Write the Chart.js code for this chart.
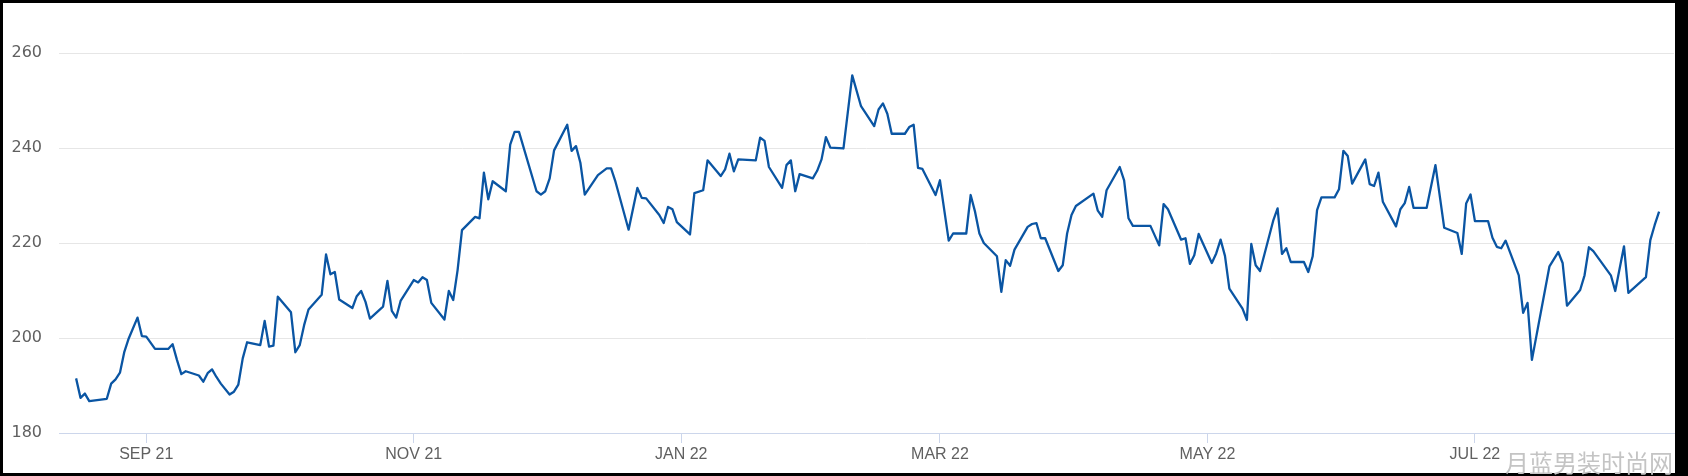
<!DOCTYPE html>
<html><head><meta charset="utf-8">
<script src="https://cdn.jsdelivr.net/npm/chart.js@4/dist/chart.umd.min.js"></script>
<style>
html,body{margin:0;padding:0;background:#000;width:1688px;height:476px;overflow:hidden}
#wrap{position:absolute;left:3px;top:3px;width:1672px;height:470px;background:#fff}
#wm{position:absolute;right:15px;top:450px;font-family:"Noto Sans CJK SC";font-size:24px;color:#c4c4c4;line-height:1;white-space:nowrap}
</style></head><body>
<div id="wrap"><canvas id="c" width="1672" height="470"></canvas></div>
<div id="wm">月蓝男装时尚网</div>
<script>
const dates = [
'2021-08-16','2021-08-17','2021-08-18','2021-08-19','2021-08-23','2021-08-24','2021-08-25','2021-08-26','2021-08-27','2021-08-28',
'2021-08-30','2021-08-31','2021-09-01','2021-09-03','2021-09-06','2021-09-07','2021-09-08','2021-09-09','2021-09-10','2021-09-13',
'2021-09-14','2021-09-15','2021-09-16','2021-09-17','2021-09-18','2021-09-20','2021-09-21','2021-09-22','2021-09-23','2021-09-24',
'2021-09-27','2021-09-28','2021-09-29','2021-09-30','2021-10-01','2021-10-04','2021-10-05','2021-10-06','2021-10-07','2021-10-08',
'2021-10-11','2021-10-12','2021-10-13','2021-10-14','2021-10-15','2021-10-18','2021-10-19','2021-10-20','2021-10-21','2021-10-22',
'2021-10-25','2021-10-26','2021-10-27','2021-10-28','2021-10-29','2021-11-01','2021-11-02','2021-11-03','2021-11-04','2021-11-05',
'2021-11-08','2021-11-09','2021-11-10','2021-11-11','2021-11-12','2021-11-15','2021-11-16','2021-11-17','2021-11-18','2021-11-19',
'2021-11-22','2021-11-23','2021-11-24','2021-11-25','2021-11-29','2021-11-30','2021-12-01','2021-12-02','2021-12-03','2021-12-06',
'2021-12-07','2021-12-08','2021-12-09','2021-12-10','2021-12-13','2021-12-15','2021-12-16','2021-12-17','2021-12-20','2021-12-22',
'2021-12-23','2021-12-24','2021-12-27','2021-12-28','2021-12-29','2021-12-30','2021-12-31','2022-01-03','2022-01-04','2022-01-06',
'2022-01-07','2022-01-10','2022-01-11','2022-01-12','2022-01-13','2022-01-14','2022-01-18','2022-01-19','2022-01-20','2022-01-21',
'2022-01-24','2022-01-25','2022-01-26','2022-01-27','2022-01-28','2022-01-31','2022-02-01','2022-02-02','2022-02-03','2022-02-04',
'2022-02-07','2022-02-09','2022-02-11','2022-02-14','2022-02-15','2022-02-16','2022-02-17','2022-02-18','2022-02-21','2022-02-22',
'2022-02-23','2022-02-24','2022-02-25','2022-02-28','2022-03-01','2022-03-03','2022-03-04','2022-03-07','2022-03-08','2022-03-09',
'2022-03-10','2022-03-11','2022-03-14','2022-03-15','2022-03-16','2022-03-17','2022-03-18','2022-03-21','2022-03-22','2022-03-23',
'2022-03-24','2022-03-25','2022-03-28','2022-03-29','2022-03-30','2022-03-31','2022-04-01','2022-04-05','2022-04-06','2022-04-07',
'2022-04-08','2022-04-11','2022-04-12','2022-04-13','2022-04-14','2022-04-18','2022-04-20','2022-04-21','2022-04-22','2022-04-25',
'2022-04-26','2022-04-27','2022-04-28','2022-04-29','2022-05-02','2022-05-03','2022-05-04','2022-05-05','2022-05-06','2022-05-09',
'2022-05-10','2022-05-11','2022-05-12','2022-05-13','2022-05-16','2022-05-17','2022-05-18','2022-05-19','2022-05-20','2022-05-23',
'2022-05-24','2022-05-25','2022-05-26','2022-05-27','2022-05-30','2022-05-31','2022-06-01','2022-06-02','2022-06-03','2022-06-06',
'2022-06-07','2022-06-08','2022-06-09','2022-06-10','2022-06-13','2022-06-14','2022-06-15','2022-06-16','2022-06-17','2022-06-20',
'2022-06-22','2022-06-24','2022-06-27','2022-06-28','2022-06-29','2022-06-30','2022-07-01','2022-07-04','2022-07-05','2022-07-06',
'2022-07-07','2022-07-08','2022-07-11','2022-07-12','2022-07-13','2022-07-14','2022-07-18','2022-07-20','2022-07-21','2022-07-22',
'2022-07-25','2022-07-26','2022-07-27','2022-07-28','2022-08-01','2022-08-02','2022-08-04','2022-08-05','2022-08-09','2022-08-10',
'2022-08-11','2022-08-12'
];
const values = [
191.5,187.4,188.3,186.7,187.2,190.4,191.3,192.7,197.1,199.9,
204.3,200.4,200.3,197.7,197.7,198.7,195.4,192.4,193.0,192.1,
190.8,192.6,193.4,191.8,190.4,188.1,188.7,190.2,195.7,199.1,
198.5,203.6,198.2,198.4,208.7,205.4,197.0,198.5,202.7,206.0,
209.1,217.6,213.4,213.9,208.1,206.3,208.8,209.9,207.6,204.1,
206.6,212.0,205.7,204.3,207.8,212.2,211.7,212.8,212.2,207.4,
203.9,209.9,208.0,214.3,222.7,225.5,225.2,234.8,229.2,233.0,
230.9,240.7,243.4,243.4,230.9,230.2,230.9,233.6,239.5,244.9,
239.4,240.4,236.9,230.2,234.3,235.7,235.7,232.9,222.8,231.6,
229.5,229.4,225.9,224.2,227.6,227.1,224.4,221.8,230.5,231.1,
237.4,234.1,235.5,238.8,235.1,237.6,237.4,242.2,241.5,236.0,
231.6,236.4,237.4,230.9,234.5,233.6,235.2,237.6,242.3,240.1,
239.9,255.3,248.8,244.6,248.1,249.4,247.2,243.0,243.0,244.4,
244.9,235.8,235.6,230.1,233.2,220.5,222.0,222.0,230.1,226.6,
222.0,220.0,217.2,209.7,216.4,215.2,218.6,223.4,224.0,224.2,
221.0,221.0,214.1,215.3,222.0,225.9,227.8,230.4,226.8,225.5,
231.1,236.0,233.2,225.2,223.6,223.6,219.5,228.2,227.1,220.7,
221.0,215.6,217.4,221.9,215.8,217.8,220.7,217.3,210.4,206.2,
203.8,219.8,215.3,214.1,224.7,227.3,217.7,218.9,216.0,216.0,
213.9,217.2,226.9,229.6,229.6,231.3,239.4,238.3,232.5,237.6,
232.4,232.0,234.8,228.7,223.5,227.1,228.4,231.8,227.4,227.4,
236.4,223.2,222.1,217.7,228.3,230.2,224.6,224.6,221.1,219.2,
218.9,220.5,213.2,205.3,207.4,195.4,215.1,218.1,215.8,206.8,
210.1,213.2,219.1,218.3,213.2,209.9,219.3,209.5,212.8,220.6,
223.8,226.6
];
const tickDates = ['2021-09-01','2021-11-01','2022-01-01','2022-03-01','2022-05-01','2022-07-01'];
const tickLabels = ['SEP 21','NOV 21','JAN 22','MAR 22','MAY 22','JUL 22'];
const yTicks = [180,200,220,240,260];

const DAY = 86400000;
const toMs = s => { const p = s.split('-').map(Number); return Date.UTC(p[0], p[1]-1, p[2]); };
const points = dates.map((d,i) => ({x: toMs(d), y: values[i]}));
const tickMs = tickDates.map(toMs);
const base = toMs('2021-09-01');
const XFONT = "'Liberation Sans', Arial, sans-serif";
const YFONT = "'DejaVu Sans', sans-serif";

new Chart(document.getElementById('c').getContext('2d'), {
  type: 'line',
  data: { datasets: [{ data: points, borderColor: '#0a55a3', borderWidth: 2.3, pointRadius: 0, tension: 0, fill: false, borderJoinStyle: 'round' }] },
  options: {
    responsive: false, animation: false, devicePixelRatio: 1,
    layout: { padding: { top: 50, right: 1, left: 0, bottom: 0 } },
    plugins: { legend: { display: false }, tooltip: { enabled: false } },
    scales: {
      x: {
        type: 'linear',
        min: base - 19.9 * DAY, max: base + 348.4 * DAY,
        afterBuildTicks: s => { s.ticks = tickMs.map(v => ({ value: v })); },
        afterFit: s => { s.height = 40; },
        ticks: { autoSkip: false, maxRotation: 0, padding: 2, color: '#606060',
                 font: { family: XFONT, size: 16 },
                 callback: (v, i) => tickLabels[i] },
        grid: { drawOnChartArea: false, drawTicks: true, tickLength: 10, tickColor: '#ccd6eb', color: '#ccd6eb' },
        border: { display: true, color: '#ccd6eb', width: 1 }
      },
      y: {
        min: 180, max: 260,
        afterBuildTicks: s => { s.ticks = yTicks.map(v => ({ value: v })); },
        afterFit: s => { s.width = 56; },
        ticks: { padding: 17, color: '#606060', font: { family: YFONT, size: 16 } },
        grid: { color: c => (c.tick && c.tick.value === 180) ? 'rgba(0,0,0,0)' : '#e6e6e6', drawTicks: false, lineWidth: 1 },
        border: { display: false }
      }
    }
  }
});
</script>
</body></html>
